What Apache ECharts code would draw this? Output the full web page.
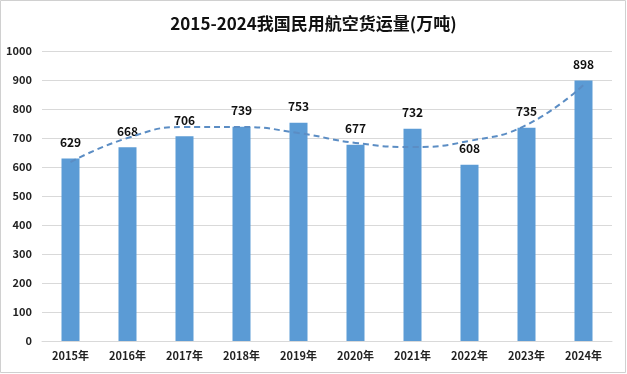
<!DOCTYPE html>
<html><head><meta charset="utf-8">
<script src="https://cdn.jsdelivr.net/npm/echarts@6/dist/echarts.min.js"></script>
<style>html,body{margin:0;padding:0;background:#fff}#c{width:627px;height:374px}</style>
</head><body><div id="c"></div>
<script>
var categories = ['2015年','2016年','2017年','2018年','2019年','2020年','2021年','2022年','2023年','2024年'];
var cargo = [629, 668, 706, 739, 753, 677, 732, 608, 735, 898];
var trend = [617, 700, 738, 738, 717, 683, 669, 690, 745, 883];
var yTicks = [0, 1000, 100];
var font = '"Noto Sans CJK SC", "Noto Sans", sans-serif';
var chart = echarts.init(document.getElementById('c'));
chart.setOption({
  animation: false,
  backgroundColor: '#fff',
  title: {
    text: '2015-2024我国民用航空货运量(万吨)',
    left: 'center', top: 10,
    textStyle: {fontFamily: font, fontSize: 17, fontWeight: 'bold', color: '#111'}
  },
  graphic: [{type: 'rect', shape: {x: 0.5, y: 0.5, width: 625, height: 372}, style: {fill: 'none', stroke: '#d0d0d0', lineWidth: 1}}],
  grid: {left: 42, right: 15, top: 51, bottom: 33},
  xAxis: {
    type: 'category', data: categories,
    axisLine: {lineStyle: {color: '#d9d9d9'}},
    axisTick: {show: false},
    axisLabel: {fontFamily: font, fontSize: 11, fontWeight: 'bold', color: '#222', margin: 9}
  },
  yAxis: {
    type: 'value', min: yTicks[0], max: yTicks[1], interval: yTicks[2],
    axisLine: {show: false}, axisTick: {show: false},
    splitLine: {lineStyle: {color: '#d9d9d9'}},
    axisLabel: {fontFamily: font, fontSize: 11, fontWeight: 'bold', color: '#222', margin: 10,
      formatter: function (v) { return String(v); }}
  },
  series: [{
    type: 'bar', data: cargo, barWidth: 18,
    itemStyle: {color: '#5B9BD5'},
    label: {show: true, position: 'top', distance: 10, fontFamily: font, fontSize: 12, fontWeight: 'bold', color: '#111'}
  }, {
    type: 'line', data: trend, smooth: 0.5, symbol: 'none',
    lineStyle: {color: '#5B8DC4', width: 2, type: [6, 4]}
  }]
});
</script></body></html>
